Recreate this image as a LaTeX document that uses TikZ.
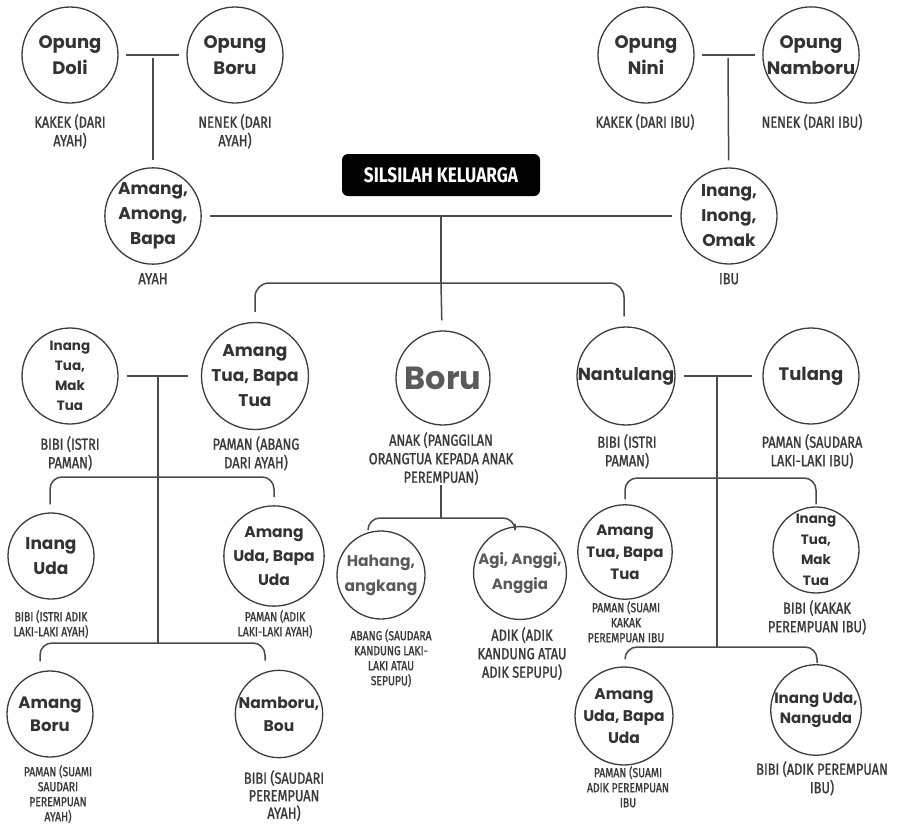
\documentclass[tikz,border=0pt]{standalone}
\usepackage{fontspec}
\usetikzlibrary{calc}
\newfontfamily\circf{Poppins}
\newfontfamily\labf[FakeStretch=0.8, FakeBold=1.2]{Fira Sans}
\newfontfamily\titf[FakeStretch=0.82]{Fira Sans}
\definecolor{linec}{HTML}{4A4A4A}
\definecolor{circc}{HTML}{3C3C3C}
\definecolor{txtc}{HTML}{333333}
\definecolor{labc}{HTML}{3A3A3A}
\definecolor{lightc}{HTML}{5A5A5A}
\tikzset{
  circ/.style={circle, draw=circc, line width=1.3pt, inner sep=0pt, minimum size=96pt,
    align=center, text=txtc, font=\circf\bfseries\fontsize{17}{25}\selectfont},
  scirc/.style={circ, minimum size=86pt},
  lab/.style={anchor=north, align=center, inner sep=0pt, text=labc,
    font=\labf\fontsize{16}{18.5}\selectfont},
  slab/.style={lab, font=\labf\fontsize{13}{15}\selectfont},
  conn/.style={draw=linec, line width=1.5pt},
  titlebox/.style={fill=black, rounded corners=6pt, minimum width=198pt, minimum height=42pt,
    inner sep=0pt, text=white, font=\titf\bfseries\fontsize{21}{24}\selectfont}
}
\begin{document}
\begin{tikzpicture}[x=1pt,y=-1pt]
\useasboundingbox[fill=white] (0,0) rectangle (900,825);
% ---------- grandparents ----------
\node[circ, font=\circf\bfseries\fontsize{18}{26}\selectfont] (doli) at (70,55) {Opung\\Doli};
\node[circ, font=\circf\bfseries\fontsize{18}{26}\selectfont] (oboru) at (235,55) {Opung\\Boru};
\node[circ, font=\circf\bfseries\fontsize{18}{26}\selectfont] (nini) at (646,55) {Opung\\Nini};
\node[circ, font=\circf\bfseries\fontsize{18}{26}\selectfont] (onamboru) at (811,55) {Opung\\Namboru};
\node[lab] (ldoli) at (70,114) {KAKEK (DARI\\AYAH)};
\node[lab] (loboru) at (235,114) {NENEK (DARI\\AYAH)};
\node[lab] (lnini) at (645,114) {KAKEK (DARI IBU)};
\node[lab] (lonamboru) at (812,114) {NENEK (DARI IBU)};
% ---------- parents ----------
\node[circ] (amang) at (153,216) {Amang,\\Among,\\Bapa};
\node[circ] (inang) at (729,216) {Inang,\\Inong,\\Omak};
\node[lab] (lamang) at (153,273) {AYAH};
\node[lab] (linang) at (729,273) {IBU};
\node[titlebox] (title) at (441,175) {SILSILAH KELUARGA};
% ---------- row 2 ----------
\node[circ, font=\circf\bfseries\fontsize{13.5}{20}\selectfont] (inangtua) at (70,376) {Inang\\Tua,\\Mak\\Tua};
\node[circ] (amtua) at (255,376) {Amang\\Tua, Bapa\\Tua};
\node[circ, minimum size=94pt, text=lightc, font=\circf\bfseries\fontsize{32}{36}\selectfont] (boru) at (443,378) {Boru};
\node[circ, font=\circf\bfseries\fontsize{17.5}{25}\selectfont] (nantulang) at (626,376) {Nantulang};
\node[circ, font=\circf\bfseries\fontsize{18}{25}\selectfont] (tulang) at (811,376) {Tulang};
\node[lab] (linangtua) at (70,436) {BIBI (ISTRI\\PAMAN)};
\node[lab] (lamtua) at (256,436) {PAMAN (ABANG\\DARI AYAH)};
\node[lab] (lboru) at (441,432) {ANAK (PANGGILAN\\ORANGTUA KEPADA ANAK\\PEREMPUAN)};
\node[lab] (lnantulang) at (627,434) {BIBI (ISTRI\\PAMAN)};
\node[lab] (ltulang) at (812,434) {PAMAN (SAUDARA\\LAKI-LAKI IBU)};
% ---------- row 3 ----------
\node[scirc] (inanguda) at (51,556) {Inang\\Uda};
\node[scirc, font=\circf\bfseries\fontsize{15.5}{24}\selectfont] (amuda) at (274,556) {Amang\\Uda, Bapa\\Uda};
\node[scirc, minimum size=88pt, text=lightc, font=\circf\bfseries\fontsize{15.5}{25}\selectfont] (hahang) at (381,575) {Hahang,\\angkang};
\node[scirc, minimum size=90pt, text=lightc, font=\circf\bfseries\fontsize{15}{25}\selectfont] (agi) at (520,573) {Agi, Anggi,\\Anggia};
\node[scirc, minimum size=84pt, font=\circf\bfseries\fontsize{15}{22}\selectfont] (amtua2) at (625,552) {Amang\\Tua, Bapa\\Tua};
\node[scirc, font=\circf\bfseries\fontsize{13.5}{20.5}\selectfont] (inangtua2) at (816,550) {Inang\\Tua,\\Mak\\Tua};
\node[slab] (linanguda) at (51,610) {BIBI (ISTRI ADIK\\LAKI-LAKI AYAH)};
\node[slab] (lamuda) at (275,610) {PAMAN (ADIK\\LAKI-LAKI AYAH)};
\node[slab] (lhahang) at (391,629) {ABANG (SAUDARA\\KANDUNG LAKI-\\LAKI ATAU\\SEPUPU)};
\node[lab] (lagi) at (522,627) {ADIK (ADIK\\KANDUNG ATAU\\ADIK SEPUPU)};
\node[slab] (lamtua2) at (626,601) {PAMAN (SUAMI\\KAKAK\\PEREMPUAN IBU};
\node[lab] (linangtua2) at (817,600) {BIBI (KAKAK\\PEREMPUAN IBU)};
% ---------- row 4 ----------
\node[scirc, font=\circf\bfseries\fontsize{16.5}{23}\selectfont] (amboru) at (50,714) {Amang\\Boru};
\node[scirc, minimum size=84pt, font=\circf\bfseries\fontsize{15.5}{23}\selectfont] (namboru) at (279,714) {Namboru,\\Bou};
\node[scirc, minimum size=84pt, font=\circf\bfseries\fontsize{15.5}{22}\selectfont] (amuda2) at (624,716) {Amang\\Uda, Bapa\\Uda};
\node[scirc, minimum size=84pt, font=\circf\bfseries\fontsize{15}{20}\selectfont] (inanguda2) at (816,710) {Inang Uda,\\Nanguda};
\node[slab] (lamboru) at (58,765) {PAMAN (SUAMI\\SAUDARI\\PEREMPUAN\\AYAH)};
\node[lab, font=\labf\fontsize{16}{17.5}\selectfont] (lnamboru) at (284,770) {BIBI (SAUDARI\\PEREMPUAN\\AYAH)};
\node[slab] (lamuda2) at (628,766) {PAMAN (SUAMI\\ADIK PEREMPUAN\\IBU};
\node[lab] (linanguda2) at (822,761) {BIBI (ADIK PEREMPUAN\\IBU)};
% ---------- junctions ----------
\coordinate (j1) at (153,58);
\coordinate (j2) at (728,58);
\coordinate (j3) at (441,216);
\coordinate (j4) at (441,283);
\coordinate (j5) at (158,375);
\coordinate (j6) at (158,643);
\coordinate (j7) at (158,477);
\coordinate (j8) at (441,518);
\coordinate (j9) at (717,376);
\coordinate (j10) at (717,647);
\coordinate (j11) at (717,478);
% ---------- connectors ----------
\draw[conn, shorten <=7pt, shorten >=7pt] (doli) -- (oboru);
\draw[conn, shorten >=7pt] (j1) -- (amang);
\draw[conn, shorten <=7pt, shorten >=7pt] (nini) -- (onamboru);
\draw[conn, shorten >=7pt] (j2) -- (inang);
\draw[conn, shorten <=8pt, shorten >=8pt] (amang) -- (inang);
\draw[conn] (j3) -- (j4);
\draw[conn, rounded corners=14pt] ([yshift=10pt]amtua.north) |- (j4) -| ([xshift=-2pt,yshift=10pt]nantulang.north);
\draw[conn, shorten >=10pt] (j4) -- (boru);
% left family
\draw[conn, shorten <=8pt, shorten >=13pt] (inangtua) -- (amtua);
\draw[conn] (j5) -- (j6);
\draw[conn, rounded corners=12pt] ([xshift=-1pt,yshift=8pt]inanguda.north) |- (j7) -| ([yshift=8pt]amuda.north);
\draw[conn, rounded corners=12pt] ([xshift=-10pt,yshift=9pt]amboru.north) |- (j6) -| ([xshift=-14pt,yshift=9pt]namboru.north);
% middle
\draw[conn] (lboru) -- (j8);
\draw[conn, rounded corners=12pt] ([xshift=-13pt,yshift=2pt]hahang.north) |- (j8) -| ([xshift=-5pt,yshift=2pt]agi.north);
% right family
\draw[conn, shorten <=8pt, shorten >=10pt] (nantulang) -- (tulang);
\draw[conn] (j9) -- (j10);
\draw[conn, rounded corners=12pt] ([yshift=5pt]amtua2.north) |- (j11) -| ([yshift=2pt]inangtua2.north);
\draw[conn, rounded corners=12pt] ([xshift=1pt,yshift=8pt]amuda2.north) |- (j10) -| ([xshift=1pt,yshift=1pt]inanguda2.north);
\end{tikzpicture}
\end{document}
